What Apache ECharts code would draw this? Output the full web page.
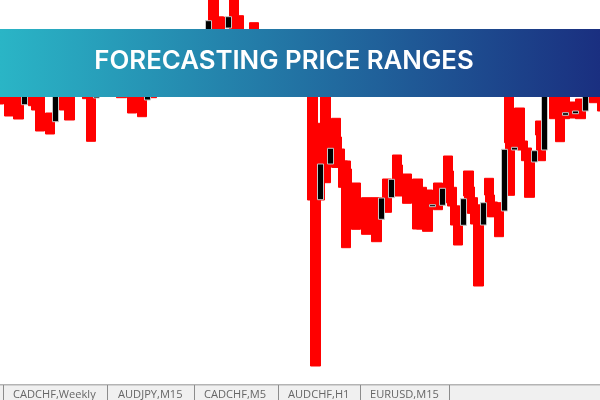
<!DOCTYPE html>
<html>
<head>
<meta charset="utf-8">
<style>
html, body { margin: 0; padding: 0; background: #fff; }
#main { width: 600px; height: 400px; }
</style>
<script src="https://cdn.jsdelivr.net/npm/echarts@6/dist/echarts.min.js"></script>
</head>
<body>
<div id="main"></div>
<script>
var titleText = 'FORECASTING PRICE RANGES';
var tabLabels = ['CADCHF,Weekly', 'AUDJPY,M15', 'CADCHF,M5', 'AUDCHF,H1', 'EURUSD,M15'];

// range bars: bar number, top and bottom price
var redBar = [-0.5, 0.5, 1.4, 2.8, 3.1, 3.5, 4.5, 5.9, 6.4, 8.1, 8.5, 11.5, 12.5, 13.5, 14.5,
    20.5, 21, 21.1, 22.5, 23, 24.5,
    30.2, 30.5, 30.9, 31.5, 32.5, 32.6, 32.9, 33.2, 33.5, 33.6, 34.5, 35.5, 36.5, 37.5, 38.5, 38.6, 39.5,
    40.5, 40.9, 41.5, 42.5, 43.5, 43.6, 43.9, 44.2, 44.5, 45.5, 45.6, 45.9, 46.2, 46.5, 47.5, 47.6, 47.9, 48.5,
    49.5, 49.6, 50.5, 50.8, 51.2, 51.5, 52.5, 52.6, 53.9, 54.5, 54.9, 55.6, 56.5, 57.8, 58.6];
var redHigh = [340, 340, 340, 340, 340, 340, 287, 340, 340, 340, 340, 340, 340, 340, 340,
    400, 383, 383, 400, 384.3, 377.3,
    340, 200, 276.7, 340, 281.7, 263, 251, 239, 239, 231, 217, 202.3, 202.3, 221, 245, 235, 226,
    221, 212.7, 210, 217, 244, 229, 212.7, 194, 194, 229, 213, 202.3, 195, 195, 221.7, 205, 198, 197.3,
    340, 260, 292, 259, 252, 248, 279, 267.3, 340, 340, 340, 298, 301, 340, 340];
var redLow = [296, 284, 281, 294.3, 290, 269, 266, 290, 280, 301.3, 258.7, 302.3, 287, 283.3, 302.3,
    340, 340, 340, 340, 340, 340,
    200, 34, 200, 217.3, 232.7, 232.7, 233, 212.7, 152.3, 213, 170.7, 165.7, 158.3, 187.7, 220, 204, 196.7,
    171, 171, 168.7, 190.3, 210, 197.3, 194, 175, 155, 204, 187.3, 186.7, 176, 114, 205, 183.3, 183.3, 163.3,
    257.3, 204.7, 253, 250, 239.3, 202.7, 265, 239.3, 281.3, 258.3, 281.3, 282, 281.3, 297.3, 289];

// faint pink slivers above the bars
var paleBar = [36, 40, 41];
var paleHigh = [223.3, 228.3, 227];
var paleLow = [202.3, 221, 213];

// black candles: bar number, top and bottom of the body
var blackBar = [2, 5, 9, 14, 20, 22, 31, 32, 37, 38, 42, 43, 45, 47, 49, 50, 52, 53, 55, 56, 57];
var blackHigh = [340, 340, 340, 340, 379.3, 383.3, 236, 251.7, 202, 220.7, 195.3, 211.7, 201.3, 197.3, 250.7, 252.7, 249.3, 340, 287.3, 289, 340];
var blackLow = [295.3, 278.3, 302, 300, 340, 372, 200.3, 236, 180.7, 202.3, 193.3, 194.7, 174.7, 175, 189, 250, 238, 250, 284.7, 286.3, 289];

var tabEdges = [3, 107, 194, 278, 360, 449];
var tabTextX = [13, 118, 204, 288, 370];

function candles(bars, highs, lows) {
    return bars.map(function (b, i) {
        return [b, lows[i], highs[i], lows[i], highs[i]];
    });
}

var graphics = [{
    type: 'rect',
    z: 5,
    shape: { x: 0, y: 29, width: 600, height: 68 },
    style: {
        fill: new echarts.graphic.LinearGradient(0, 0, 1, 0, [
            { offset: 0, color: '#2ab5c6' },
            { offset: 1, color: '#1a2f80' }
        ])
    }
}, {
    type: 'text',
    z: 6,
    x: 284,
    y: 61,
    style: {
        text: titleText,
        fill: '#fff',
        font: '600 25.8px Inter',
        textAlign: 'center',
        textVerticalAlign: 'middle'
    }
}, {
    type: 'rect',
    z: 5,
    shape: { x: 0, y: 384, width: 600, height: 16 },
    style: { fill: '#f0f0f0' }
}, {
    type: 'rect',
    z: 5,
    shape: { x: 0, y: 384, width: 600, height: 1.5 },
    style: { fill: '#b4b4b4' }
}];

tabEdges.forEach(function (x) {
    graphics.push({
        type: 'rect',
        z: 6,
        shape: { x: x, y: 385, width: 1, height: 15 },
        style: { fill: '#8c8c8c' }
    });
});

tabLabels.forEach(function (label, i) {
    graphics.push({
        type: 'text',
        z: 6,
        x: tabTextX[i],
        y: 395,
        style: {
            text: label,
            fill: '#666',
            font: '11.1px "Open Sans"',
            textAlign: 'left',
            textVerticalAlign: 'middle'
        }
    });
});

var myChart = echarts.init(document.getElementById('main'));
myChart.setOption({
    animation: false,
    backgroundColor: '#fff',
    grid: { left: 0, right: 0, top: 0, bottom: 0 },
    xAxis: { type: 'value', min: -0.42, max: 58.4, show: false },
    yAxis: { type: 'value', min: 0, max: 400, show: false },
    graphic: graphics,
    series: [{
        name: 'pale',
        type: 'candlestick',
        z: 1,
        barWidth: 1,
        itemStyle: { color: '#ffc4c4', color0: '#ffc4c4', borderWidth: 0 },
        data: candles(paleBar, paleHigh, paleLow)
    }, {
        name: 'range',
        type: 'candlestick',
        z: 2,
        barWidth: 10,
        itemStyle: { color: '#ff0000', color0: '#ff0000', borderColor: '#ff0000', borderColor0: '#ff0000', borderWidth: 1 },
        data: candles(redBar, redHigh, redLow)
    }, {
        name: 'price',
        type: 'candlestick',
        z: 3,
        barWidth: 6.5,
        itemStyle: { color: '#000', color0: '#000', borderColor: '#c4c4c4', borderColor0: '#c4c4c4', borderWidth: 1 },
        data: candles(blackBar, blackHigh, blackLow)
    }]
});
</script>
</body>
</html>
